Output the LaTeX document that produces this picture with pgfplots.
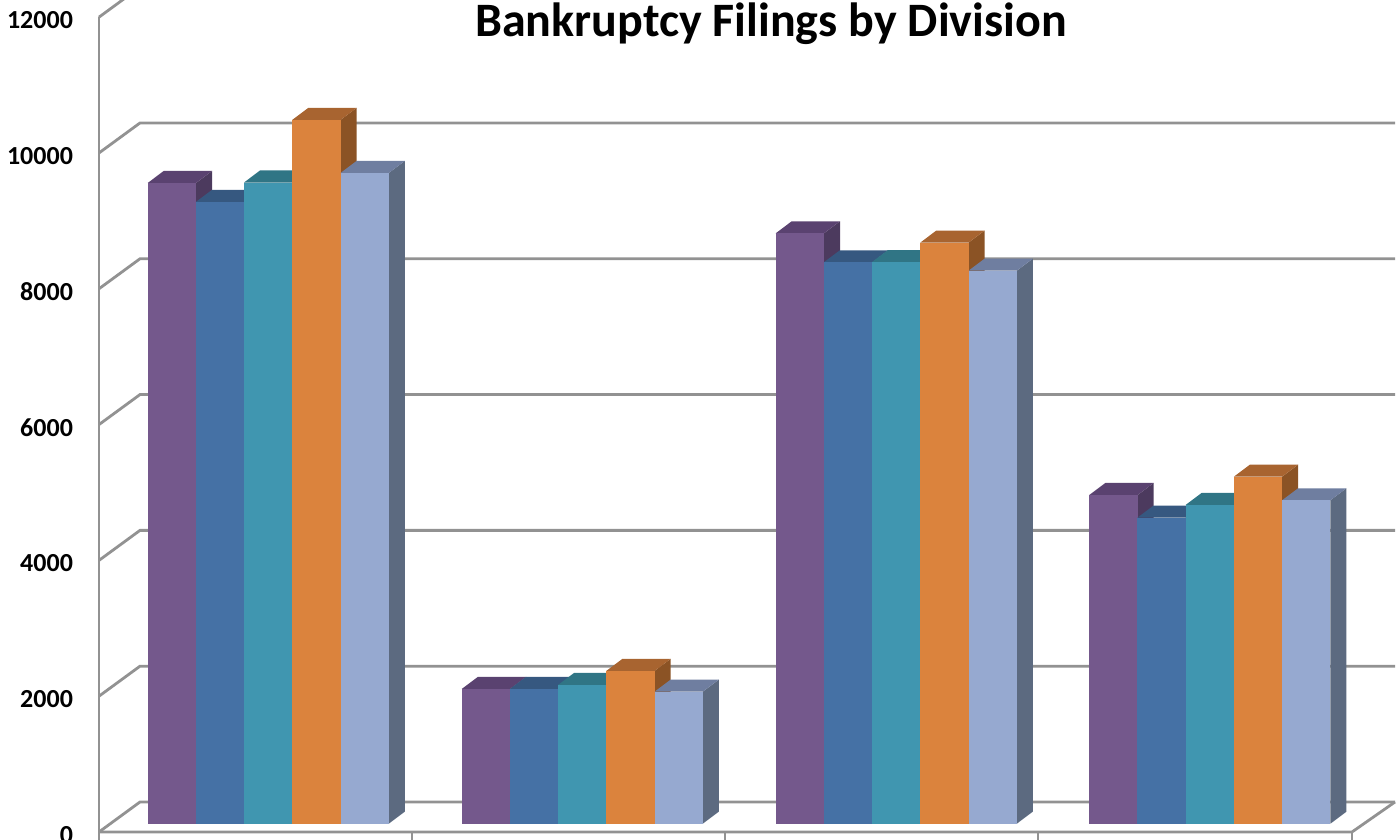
\documentclass[border=0pt]{standalone}
\usepackage{pgfplots}
\pgfplotsset{compat=1.18}
\usepackage{fontspec}
\setmainfont{Carlito}
\definecolor{grid}{HTML}{929292}
\definecolor{pf}{HTML}{74588C}\definecolor{pt}{HTML}{5A4270}\definecolor{ps}{HTML}{4C3A5E}
\definecolor{bf}{HTML}{4571A5}\definecolor{bt}{HTML}{365880}\definecolor{bs}{HTML}{2F4B6E}
\definecolor{tf}{HTML}{4096B0}\definecolor{tt}{HTML}{307585}\definecolor{ts}{HTML}{2A5F70}
\definecolor{of}{HTML}{DB833D}\definecolor{ot}{HTML}{A86430}\definecolor{os}{HTML}{8B5325}
\definecolor{lf}{HTML}{96A9D0}\definecolor{lt}{HTML}{6F7EA0}\definecolor{ls}{HTML}{5C6A80}
% #1 left edge, #2 value, #3 front, #4 top, #5 side
\newcommand\BAR[5]{%
 \pgfmathsetmacro\xa{#1}\pgfmathsetmacro\xb{#1+48.3}%
 \pgfmathsetmacro\xc{#1+16}\pgfmathsetmacro\xd{#1+64.3}%
 \pgfmathsetmacro\yb{#2+122}\pgfmathsetmacro\yc{#2+299}%
 \addplot[fill=#5,draw=none] coordinates {(\xb,122)(\xd,299)(\xd,\yc)(\xb,\yb)} --cycle;
 \addplot[fill=#4,draw=none] coordinates {(\xa,\yb)(\xc,\yc)(\xd,\yc)(\xb,\yb)} --cycle;
 \addplot[fill=#3,draw=none] coordinates {(\xa,122)(\xb,122)(\xb,\yb)(\xa,\yb)} --cycle;
}
\newcommand\GROUP[6]{%
 \BAR{#1}{#2}{pf}{pt}{ps}
 \BAR{#1+48.1}{#3}{bf}{bt}{bs}
 \BAR{#1+96.3}{#4}{tf}{tt}{ts}
 \BAR{#1+144.5}{#5}{of}{ot}{os}
 \BAR{#1+192.8}{#6}{lf}{lt}{ls}
}
\begin{document}
\begin{tikzpicture}
\path[use as bounding box] (0pt,0pt) rectangle (699.5pt,420pt);
\begin{axis}[
 at={(44.5pt,0pt)},anchor=south west,
 scale only axis,width=655pt,height=420pt,
 xmin=89,xmax=1399,ymin=-117.8,ymax=12253,
 axis line style={draw=none},
 xtick=\empty,
 ytick={0,2000,4000,6000,8000,10000,12000},
 major tick length=0pt,
 scaled y ticks=false,
 yticklabel style={font=\bfseries\fontsize{13}{13}\selectfont,anchor=east,xshift=-4.5pt,yshift=-1.5pt,
   /pgf/number format/assume math mode=true,/pgf/number format/fixed,/pgf/number format/set thousands separator={}},
 title={Bankruptcy Filings by Division},
 title style={at={(0.5206,1)},anchor=north,yshift=-4pt,font=\bfseries\fontsize{24}{26}\selectfont},
 no markers,
 wall/.style={draw=grid,line width=1.4pt,solid},
]
% walls
\addplot[wall] coordinates {(99,12000)(99,-118)};
\addplot[wall] coordinates {(99,12000)(140,12442)};
\addplot[wall] coordinates {(99,10000)(140,10442)(1395,10442)};
\addplot[wall] coordinates {(99,8000)(140,8442)(1395,8442)};
\addplot[wall] coordinates {(99,6000)(140,6442)(1395,6442)};
\addplot[wall] coordinates {(99,4000)(140,4442)(1395,4442)};
\addplot[wall] coordinates {(99,2000)(140,2442)(1395,2442)};
\addplot[wall] coordinates {(99,0)(140,442)(1395,442)};
\addplot[wall] coordinates {(99,0)(1352,0)(1395,442)};
\addplot[wall] coordinates {(412,0)(412,-118)};
\addplot[wall] coordinates {(725,0)(725,-118)};
\addplot[wall] coordinates {(1038,0)(1038,-118)};
\addplot[wall] coordinates {(1352,0)(1352,-118)};
% bars
\GROUP{147.7}{9436}{9156}{9443}{10364}{9583}
\GROUP{461.7}{1984}{1984}{2043}{2249}{1944}
\GROUP{775.7}{8695}{8268}{8272}{8557}{8144}
\GROUP{1089.3}{4841}{4507}{4694}{5110}{4763}
\end{axis}
\end{tikzpicture}
\end{document}
